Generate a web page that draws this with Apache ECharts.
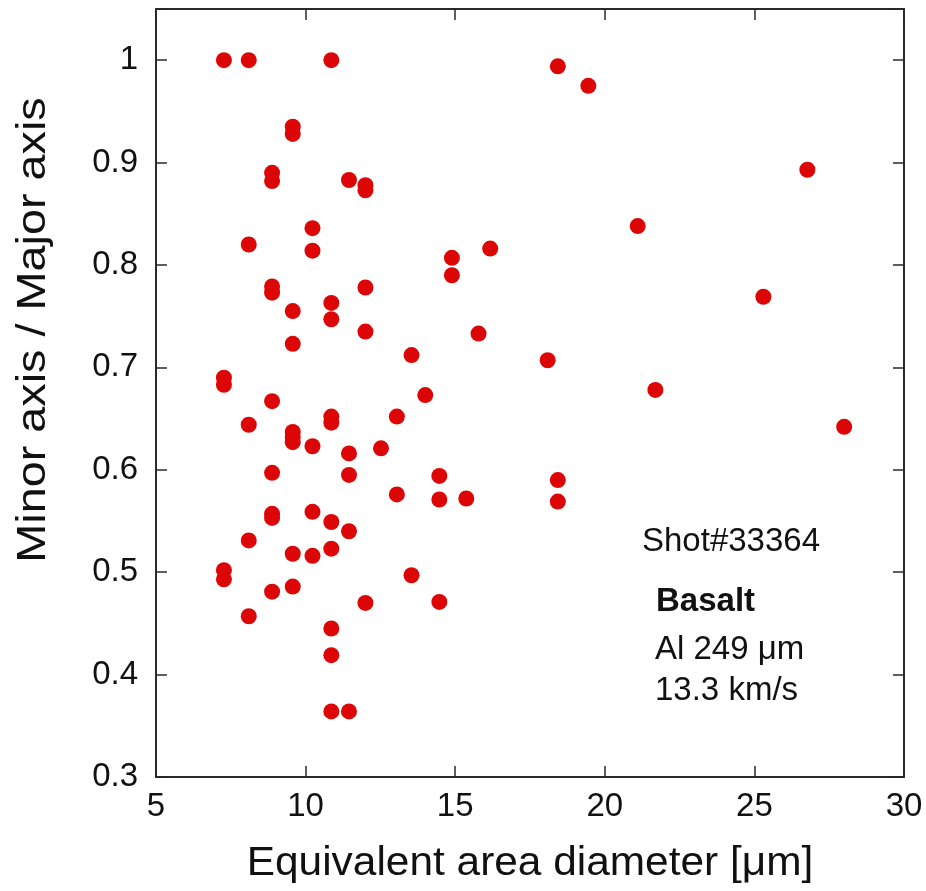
<!DOCTYPE html>
<html>
<head>
<meta charset="utf-8">
<script src="https://cdn.jsdelivr.net/npm/echarts@6/dist/echarts.min.js"></script>
<style>
html,body{margin:0;padding:0;background:#fff;}
#chart{width:926px;height:891px;}
</style>
</head>
<body>
<div id="chart"></div>
<script>
// Equivalent area diameter [μm]
const diameters = [
  7.27, 7.27, 7.27, 7.27, 7.27,
  8.1, 8.1, 8.1, 8.1, 8.1,
  8.88, 8.88, 8.88, 8.88, 8.88, 8.88, 8.88, 8.88, 8.88,
  9.57, 9.57, 9.57, 9.57, 9.57, 9.57, 9.57, 9.57, 9.57,
  10.23, 10.23, 10.23, 10.23, 10.23,
  10.86, 10.86, 10.86, 10.86, 10.86, 10.86, 10.86, 10.86, 10.86, 10.86,
  11.45, 11.45, 11.45, 11.45, 11.45,
  12.0, 12.0, 12.0, 12.0, 12.0,
  12.52,
  13.05, 13.05,
  13.54, 13.54,
  14.0,
  14.47, 14.47, 14.47,
  14.89, 14.89,
  15.37,
  15.78,
  16.17,
  18.09,
  18.43, 18.43, 18.43,
  19.45,
  21.1,
  21.69,
  25.3,
  26.77,
  28.0
];
// Minor axis / Major axis
const ratios = [
  1.0, 0.69, 0.683, 0.502, 0.493,
  1.0, 0.82, 0.644, 0.531, 0.457,
  0.89, 0.882, 0.779, 0.773, 0.667, 0.597, 0.557, 0.553, 0.481,
  0.935, 0.928, 0.755, 0.723, 0.637, 0.632, 0.627, 0.518, 0.486,
  0.836, 0.814, 0.623, 0.559, 0.516,
  1.0, 0.763, 0.747, 0.652, 0.646, 0.549, 0.523, 0.445, 0.419, 0.364,
  0.883, 0.616, 0.595, 0.54, 0.364,
  0.878, 0.873, 0.778, 0.735, 0.47,
  0.621,
  0.652, 0.576,
  0.712, 0.497,
  0.673,
  0.594, 0.571, 0.471,
  0.807, 0.79,
  0.572,
  0.733,
  0.816,
  0.707,
  0.994, 0.59, 0.569,
  0.975,
  0.838,
  0.678,
  0.769,
  0.893,
  0.642
];
const xTitle = 'Equivalent area diameter [\u03bcm]';
const yTitle = 'Minor axis / Major axis';
const noteLines = ['Shot#33364', 'Basalt', 'Al 249 \u03bcm', '13.3 km/s'];

const points = diameters.map((d, i) => [d, ratios[i]]);

const FONT = '"Liberation Sans", Arial, Helvetica, sans-serif';
const AXC = '#2a2a2a';
const chart = echarts.init(document.getElementById('chart'), null, {renderer: 'canvas'});

const lineStyle = {color: AXC, width: 2};
const tickStyle = {show: true, inside: true, length: 11, lineStyle: {color: AXC, width: 1.5}};

chart.setOption({
  backgroundColor: '#fff',
  animation: false,
  grid: {left: 156, right: 22, top: 9, bottom: 114, containLabel: false},
  xAxis: [{
    type: 'value', min: 5, max: 30, interval: 5, position: 'bottom',
    axisLine: {show: true, lineStyle: lineStyle},
    axisTick: tickStyle,
    splitLine: {show: false},
    axisLabel: {color: '#111', fontSize: 33, fontFamily: FONT, margin: 13}
  }, {
    type: 'value', min: 5, max: 30, interval: 5, position: 'top',
    axisLine: {show: true, lineStyle: lineStyle},
    axisTick: tickStyle,
    splitLine: {show: false},
    axisLabel: {show: false}
  }],
  yAxis: [{
    type: 'value', min: 0.3, max: 1.05, interval: 0.1, position: 'left',
    axisLine: {show: true, lineStyle: lineStyle},
    axisTick: tickStyle,
    splitLine: {show: false},
    axisLabel: {
      color: '#111', fontSize: 33, fontFamily: FONT, margin: 18,
      formatter: v => (v > 1.001 ? '' : String(Math.round(v * 10) / 10))
    }
  }, {
    type: 'value', min: 0.3, max: 1.05, interval: 0.1, position: 'right',
    axisLine: {show: true, lineStyle: lineStyle},
    axisTick: tickStyle,
    splitLine: {show: false},
    axisLabel: {show: false}
  }],
  series: [{
    type: 'scatter',
    xAxisIndex: 0, yAxisIndex: 0,
    data: points,
    symbol: 'circle',
    symbolSize: 16,
    itemStyle: {color: '#dc0606', opacity: 1},
    z: 3
  }],
  graphic: [
    {type: 'text', rotation: Math.PI / 2, x: 34, y: 330, scaleX: 1.17, scaleY: 1,
      style: {text: yTitle, font: '40px ' + FONT, fill: '#111', align: 'center', verticalAlign: 'middle'}},
    {type: 'text', x: 530, y: 864, scaleX: 1.06, scaleY: 1,
      style: {text: xTitle, font: '40px ' + FONT, fill: '#111', align: 'center', verticalAlign: 'middle'}},
    {type: 'text', x: 642, y: 542,
      style: {text: noteLines[0], font: '33px ' + FONT, fill: '#111', align: 'left', verticalAlign: 'middle'}},
    {type: 'text', x: 656, y: 602,
      style: {text: noteLines[1], font: 'bold 33px ' + FONT, fill: '#111', align: 'left', verticalAlign: 'middle'}},
    {type: 'text', x: 655, y: 650,
      style: {text: noteLines[2], font: '33px ' + FONT, fill: '#111', align: 'left', verticalAlign: 'middle'}},
    {type: 'text', x: 655, y: 691,
      style: {text: noteLines[3], font: '33px ' + FONT, fill: '#111', align: 'left', verticalAlign: 'middle'}}
  ]
});
</script>
</body>
</html>
